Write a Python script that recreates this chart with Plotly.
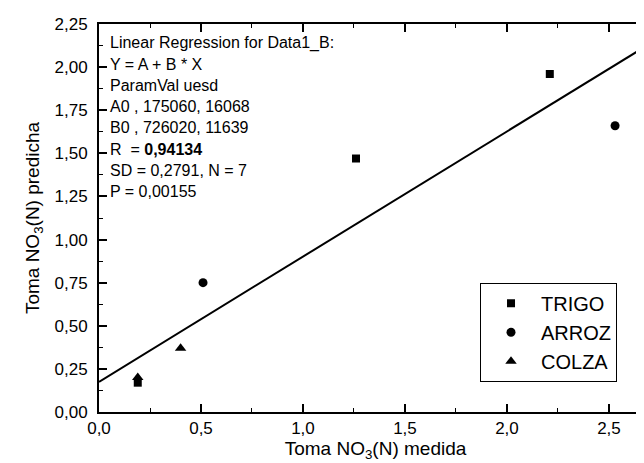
import plotly.graph_objects as go

# ---- data ----
trigo_x = [0.19, 1.26, 2.21]
trigo_y = [0.17, 1.47, 1.96]
arroz_x = [0.51, 2.53]
arroz_y = [0.75, 1.66]
colza_x = [0.19, 0.40]
colza_y = [0.20, 0.37]

# Linear regression parameters shown in the chart
A = 0.17506
B = 0.72602

x_tickvals = [0.0, 0.5, 1.0, 1.5, 2.0, 2.5]
x_ticktext = ["0,0", "0,5", "1,0", "1,5", "2,0", "2,5"]
y_tickvals = [0.0, 0.25, 0.5, 0.75, 1.0, 1.25, 1.5, 1.75, 2.0, 2.25]
y_ticktext = ["0,00", "0,25", "0,50", "0,75", "1,00", "1,25", "1,50", "1,75", "2,00", "2,25"]

stats_lines = [
    "Linear Regression for Data1_B:",
    "Y = A + B * X",
    "ParamVal uesd",
    "A0 , 175060, 16068",
    "B0 , 726020, 11639",
    "R  = <b>0,94134</b>",
    "SD = 0,2791, N = 7",
    "P = 0,00155",
]

X_MAX = 2.711
Y_MAX = 2.25

FONT = "Liberation Sans, Arial, sans-serif"

fig = go.Figure()

# regression line
line_x = [0.0, X_MAX]
line_y = [A + B * v for v in line_x]
fig.add_trace(go.Scatter(x=line_x, y=line_y, mode="lines",
                         line=dict(color="black", width=2),
                         showlegend=False, hoverinfo="skip"))

fig.add_trace(go.Scatter(x=trigo_x, y=trigo_y, mode="markers", name="TRIGO",
                         marker=dict(symbol="square", size=8, color="black")))
fig.add_trace(go.Scatter(x=arroz_x, y=arroz_y, mode="markers", name="ARROZ",
                         marker=dict(symbol="circle", size=9, color="black")))
fig.add_trace(go.Scatter(x=colza_x, y=colza_y, mode="markers", name="COLZA",
                         marker=dict(symbol="triangle-up", size=10, color="black")))

# stats text block
plot_top, plot_bottom = 16, 404
for i, txt in enumerate(stats_lines):
    py = 35 + i * 21.2
    fig.add_annotation(
        x=0, xref="paper", xshift=9,
        y=(plot_bottom - py) / (plot_bottom - plot_top), yref="paper",
        text=txt, showarrow=False, xanchor="left", yanchor="middle",
        font=dict(family=FONT, size=16, color="black"),
    )

fig.update_layout(
    width=644, height=463,
    margin=dict(l=91, r=0, t=16, b=59),
    paper_bgcolor="white", plot_bgcolor="white",
    font=dict(family=FONT, color="black"),
    legend=dict(
        x=0.689, y=0.333, xanchor="left", yanchor="top",
        bordercolor="black", borderwidth=1, bgcolor="white",
        font=dict(family=FONT, size=20, color="black"),
        itemwidth=50, tracegroupgap=0,
    ),
    xaxis=dict(
        range=[0, X_MAX], tickvals=x_tickvals, ticktext=x_ticktext,
        ticks="inside", ticklen=8, tickwidth=1.5, tickcolor="black",
        minor=dict(dtick=0.25, tick0=0, ticks="inside", ticklen=4, tickcolor="black", tickwidth=1),
        showline=True, linecolor="black", linewidth=2, mirror="ticks",
        showgrid=False, zeroline=False,
        tickfont=dict(family=FONT, size=17),
        title=dict(text="Toma NO<sub>3</sub>(N) medida", font=dict(family=FONT, size=19), standoff=4),
    ),
    yaxis=dict(
        range=[0, Y_MAX], tickvals=y_tickvals, ticktext=y_ticktext,
        ticks="inside", ticklen=8, tickwidth=1.5, tickcolor="black",
        minor=dict(dtick=0.125, tick0=0, ticks="inside", ticklen=4, tickcolor="black", tickwidth=1),
        showline=True, linecolor="black", linewidth=2, mirror=False,
        showgrid=False, zeroline=False,
        tickfont=dict(family=FONT, size=17), ticklabelstandoff=6,
        title=dict(text="Toma NO<sub>3</sub>(N) predicha", font=dict(family=FONT, size=19), standoff=10),
    ),
)

fig.write_html("out.html")
